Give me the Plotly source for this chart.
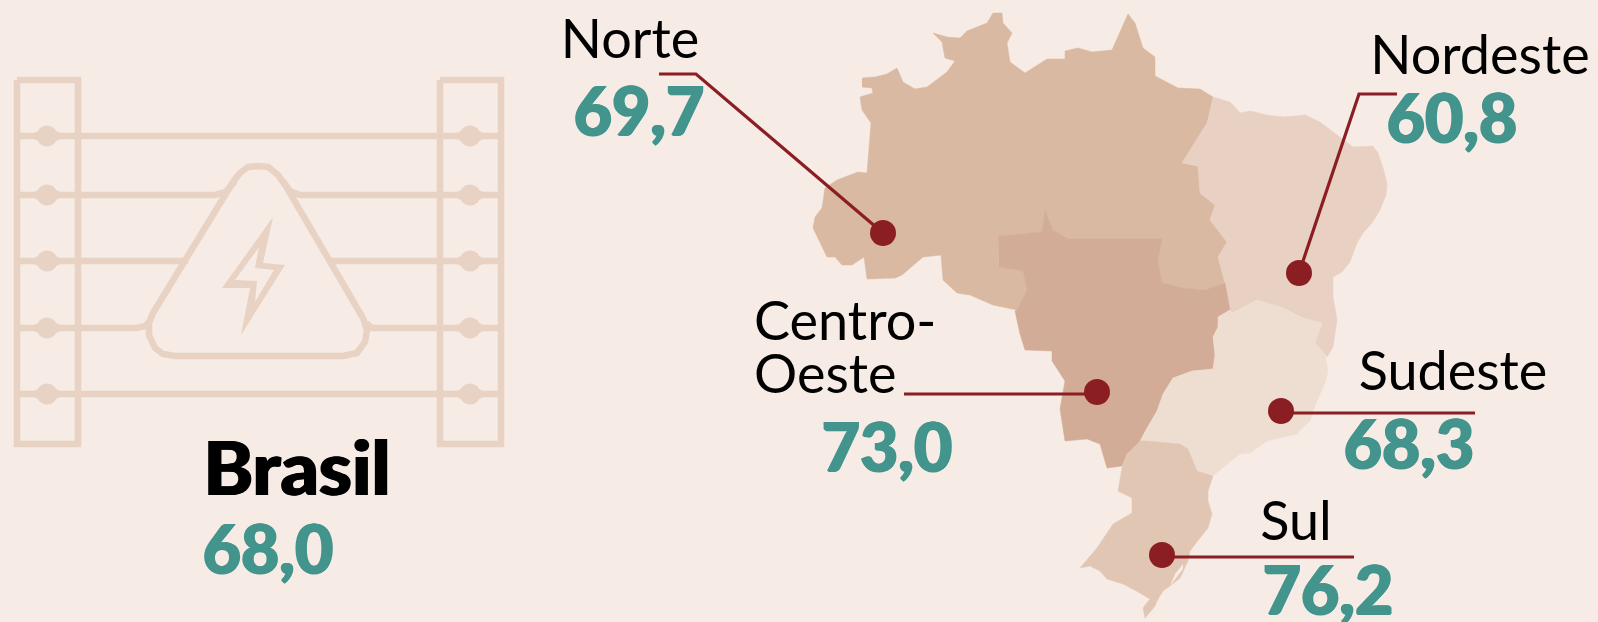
import plotly.graph_objects as go

BG = "#F6EBE5"
ICON = "#E8D2C4"
RED = "#8B1E23"
TEAL = "#42948D"

region_names = ["Norte", "Nordeste", "Centro-Oeste", "Sudeste", "Sul"]
region_values = ["69,7", "60,8", "73,0", "68,3", "76,2"]
brasil_name = "Brasil"
brasil_value = "68,0"

norte_x = [862,875,887,897,903,915,927,947,955,945,942,933,947,960,967,987,993,1002,1003,1012,1007,1010,1025,1047,1065,1065,1078,1092,1112,1128,1135,1143,1155,1155,1178,1200,1213,1207,1182,1198,1200,1215,1210,1227,1218,1225,1205,1183,1162,1158,1162,1068,1053,1045,1042,998,999,1023,1027,1017,993,970,957,943,941,923,902,895,867,864,852,842,835,827,813,815,822,825,837,858,867,871,862,860,873,872,862]
norte_y = [78,77,74,68,82,89,87,72,61,58,42,33,37,38,31,23,13,13,23,33,43,62,73,59,59,51,48,52,50,14,23,48,57,76,88,89,97,123,163,166,193,205,220,242,257,283,290,288,283,260,239,239,230,210,232,236,267,271,290,310,305,295,293,280,255,257,275,278,279,257,265,265,257,257,228,217,208,188,180,172,173,123,110,97,93,88,87]
nordeste_x = [1213,1222,1230,1235,1240,1250,1267,1283,1305,1320,1333,1343,1353,1373,1378,1383,1387,1386,1380,1372,1363,1357,1350,1342,1333,1333,1337,1333,1327,1315,1322,1303,1283,1257,1232,1230,1225,1218,1227,1210,1215,1200,1198,1182,1207]
nordeste_y = [97,100,102,107,113,111,115,117,115,122,132,140,147,146,153,168,183,195,210,223,233,243,262,272,277,297,320,347,357,343,323,318,308,300,313,310,283,257,242,220,205,193,166,163,123]
centro_x = [998,1042,1045,1053,1068,1162,1158,1162,1183,1205,1225,1230,1218,1218,1213,1215,1213,1192,1173,1163,1157,1147,1140,1127,1122,1107,1100,1087,1065,1060,1065,1052,1052,1025,1020,1015,1017,1027,1023,999]
centro_y = [236,232,210,230,239,239,260,283,288,290,283,310,317,327,337,355,369,371,378,394,411,428,441,454,466,468,444,439,441,409,381,361,351,350,334,311,310,290,271,267]
sudeste_x = [1232,1257,1283,1303,1322,1315,1327,1325,1328,1325,1320,1313,1310,1302,1297,1267,1250,1240,1227,1213,1197,1188,1180,1147,1140,1147,1157,1163,1173,1192,1213,1215,1213,1218,1218,1230]
sudeste_y = [313,300,308,318,323,343,357,354,371,383,394,411,421,428,434,441,453,454,464,476,471,449,444,441,441,428,411,394,378,371,369,355,337,327,317,310]
sul_x = [1140,1147,1180,1188,1197,1213,1208,1208,1212,1208,1200,1190,1188,1180,1170,1163,1157,1155,1145,1143,1150,1140,1123,1107,1100,1090,1080,1097,1107,1113,1132,1132,1118,1122,1127]
sul_y = [441,441,444,449,471,476,491,501,514,528,538,551,561,578,586,591,601,606,618,608,599,593,584,579,571,566,568,548,533,524,513,498,491,468,454]
lagoon_x = [1183,1175,1170,1174,1183]
lagoon_y = [564,574,586,581,569]
region_x = [norte_x, nordeste_x, centro_x, sudeste_x, sul_x]
region_y = [norte_y, nordeste_y, centro_y, sudeste_y, sul_y]
region_colors = ["#D9B9A1", "#E8D0C2", "#D2AC96", "#EEDED1", "#E2C6B4"]

leader_x = [[883,696,659],[1299,1359,1397],[1097,904],[1281,1475],[1162,1354]]
leader_y = [[233,74,74],[273,94,94],[394,394],[413,413],[557,557]]
dot_x = [883,1299,1097,1281,1162]
dot_y = [233,273,392,411,555]

label_x = [630,1480,1453,1296]
label_y = [44,60,376,526]
label_text = ["Norte","Nordeste","Sudeste","Sul"]
centro_lines = ["Centro-","Oeste"]
centro_line_x = [754,754]
centro_line_y = [326,379]
value_x = [639,1452,887,1409,1328]
value_y = [118,125,454,451,597]

post_x = [[17,78,78,17,17],[440,501,501,440,440]]
post_y = [[80,80,444,444,80],[80,80,444,444,80]]
wire_y = [136,394]
wire_x = [20,498]
wire2_left_x = [20,215,226,235]
wire2_left_y = [195,195,192,181]
wire2_right_x = [283,290,300,498]
wire2_right_y = [181,191,195,195]
wire3_left_x = [20,188]
wire3_right_x = [328,498]
wire3_y = [261,261]
wire4_left_x = [20,137,145,149]
wire4_left_y = [328,328,326,322]
wire4_right_x = [366,372,498]
wire4_right_y = [323,328,328]
knot_x = [47,470]
knot_y = [136,195,261,328,394]
tri_x = [233,153,149,149,155,163,175,343,357,365,367,363,287,278,268,258,248,240,233]
tri_y = [182,313,323,335,348,354,356,356,353,342,330,318,188,175,167,166,167,173,182]
bolt_outer_x = [273,263,285,241,250,222,273]
bolt_outer_y = [217,263,265,335,288,288,217]
bolt_inner_x = [259,255,274,255,257,235,259]
bolt_inner_y = [247,268,270,302,281,280,247]

fig = go.Figure()

def line(x, y, color=ICON, width=6.5):
    fig.add_trace(go.Scatter(x=x, y=y, mode="lines", line=dict(color=color, width=width),
                             hoverinfo="skip", showlegend=False))

for xs, ys in zip(post_x, post_y):
    line(xs, ys)
for wy in wire_y:
    line(wire_x, [wy, wy])
line(wire2_left_x, wire2_left_y)
line(wire2_right_x, wire2_right_y)
line(wire3_left_x, wire3_y)
line(wire3_right_x, wire3_y)
line(wire4_left_x, wire4_left_y)
line(wire4_right_x, wire4_right_y)
knots_x = [k for k in knot_x for _ in knot_y]
knots_y = knot_y * len(knot_x)
fig.add_trace(go.Scatter(x=knots_x, y=knots_y, mode="markers",
                         marker=dict(color=ICON, size=21, symbol="circle", line=dict(width=0)),
                         hoverinfo="skip", showlegend=False))
fig.add_trace(go.Scatter(x=knots_x, y=knots_y, mode="markers",
                         marker=dict(color=ICON, size=27, symbol="diamond-wide", line=dict(width=0)),
                         hoverinfo="skip", showlegend=False))
line(tri_x, tri_y)
fig.add_trace(go.Scatter(x=bolt_outer_x, y=bolt_outer_y, mode="lines", fill="toself", fillcolor=ICON,
                         line=dict(width=0), hoverinfo="skip", showlegend=False))
fig.add_trace(go.Scatter(x=bolt_inner_x, y=bolt_inner_y, mode="lines", fill="toself", fillcolor=BG,
                         line=dict(width=0), hoverinfo="skip", showlegend=False))

for xs, ys, c, n in zip(region_x, region_y, region_colors, region_names):
    fig.add_trace(go.Scatter(x=xs, y=ys, mode="lines", fill="toself", fillcolor=c,
                             line=dict(width=0.5, color=c), name=n, hoverinfo="skip", showlegend=False))
fig.add_trace(go.Scatter(x=lagoon_x, y=lagoon_y, mode="lines", fill="toself", fillcolor=BG,
                         line=dict(width=0), hoverinfo="skip", showlegend=False))
for xs, ys in zip(leader_x, leader_y):
    line(xs, ys, color=RED, width=3.2)
fig.add_trace(go.Scatter(x=dot_x, y=dot_y, mode="markers", marker=dict(color=RED, size=26, line=dict(width=0)),
                         hoverinfo="skip", showlegend=False))

def text(xs, ys, ts, font, pos="middle center"):
    fig.add_trace(go.Scatter(x=xs, y=ys, mode="text", text=ts, textposition=pos, textfont=font,
                             hoverinfo="skip", showlegend=False))

label_font = dict(family="Lato", size=54, color="#000000")
value_font = dict(family="Lato", size=66, color=TEAL, weight=900,
                  shadow="1px 0 0 #42948D, -1px 0 0 #42948D, 0 1px 0 #42948D")
text(label_x, label_y, label_text, label_font)
text(centro_line_x, centro_line_y, centro_lines, label_font, "middle right")
text(value_x, value_y, region_values, value_font)
text([297], [476], [brasil_name], dict(family="Lato", size=75, color="#000000", weight=900,
                                       shadow="1px 0 0 #000, -1px 0 0 #000"))
text([268], [556], [brasil_value], value_font)

fig.update_layout(
    width=1598, height=622, margin=dict(l=0, r=0, t=0, b=0),
    paper_bgcolor=BG, plot_bgcolor=BG, showlegend=False,
    xaxis=dict(range=[0, 1598], visible=False, fixedrange=True),
    yaxis=dict(range=[622, 0], visible=False, fixedrange=True),
)
fig.write_html("out.html", config=dict(displayModeBar=False),
               post_script="document.body.style.margin='0';document.body.style.overflow='hidden';document.body.style.background='%s';" % BG)
